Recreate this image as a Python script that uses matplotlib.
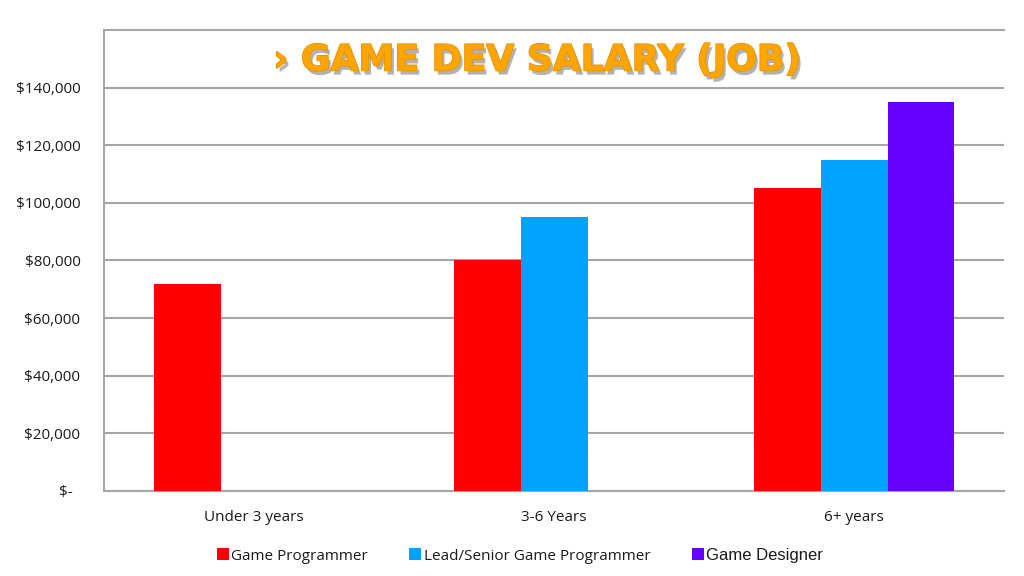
import numpy as np
import matplotlib
matplotlib.use("Agg")
from matplotlib import pyplot as plt
from matplotlib import patheffects as pe
from matplotlib.lines import Line2D
from matplotlib.ticker import FuncFormatter

# Data
categories = ["Under 3 years", "3-6 Years", "6+ years"]
series_names = ["Game Programmer", "Lead/Senior Game Programmer", "Game Designer"]
game_programmer = [72000, 80000, 105000]
lead_programmer = [0, 95000, 115000]
game_designer = [0, 0, 135000]
colors = ["#FF0000", "#00A2FF", "#6600FF"]

plt.rcParams['font.family'] = ['Open Sans', 'DejaVu Sans']

fig = plt.figure(figsize=(10.24, 5.76), dpi=100)
ax = fig.add_axes([0.1016, 0.1476, 0.879, 0.8003])

x = np.arange(len(categories))
width = 0.223
for i, (vals, c) in enumerate(zip([game_programmer, lead_programmer, game_designer], colors)):
    ax.bar(x + (i - 1) * width, vals, width, color=c, zorder=3, linewidth=0)

ax.set_xlim(-0.5, len(categories) - 0.5)
ax.set_ylim(0, 160000)
ax.set_yticks(np.arange(0, 140001, 20000))
ax.yaxis.set_major_formatter(FuncFormatter(
    lambda v, p: "$-  " if v == 0 else f"${v:,.0f}"))
ax.set_xticks(x)
ax.set_xticklabels(categories)
ax.tick_params(axis="both", length=0, labelsize=11, colors="#1a1a1a")
ax.tick_params(axis="y", pad=17)
ax.tick_params(axis="x", pad=14)

ax.grid(axis="y", color="#A6A6A6", linewidth=1.5, zorder=0)
ax.spines["right"].set_visible(False)
for side in ["left", "bottom", "top"]:
    ax.spines[side].set_color("#A6A6A6")
    ax.spines[side].set_linewidth(1.5)

# Title with shadow
fig.text(0.525, 0.895, "› GAME DEV SALARY (JOB)", ha="center", va="center",
         fontsize=26, fontweight="heavy", family=["DejaVu Sans"], color="#FFA500",
         path_effects=[pe.withSimplePatchShadow(offset=(2, -3), shadow_rgbFace="#555555", alpha=0.45),
                       pe.Stroke(linewidth=1.2, foreground="#E89400"), pe.Normal()])

handles = [Line2D([0], [0], marker="s", linestyle="none", markersize=8,
                  markerfacecolor=c, markeredgewidth=0) for c in colors]
leg = fig.legend(handles, series_names, loc="center", bbox_to_anchor=(0.507, 0.035),
                 ncol=3, frameon=False, fontsize=11, handletextpad=0.05,
                 columnspacing=2.6, handlelength=1.0)
for t in leg.get_texts():
    t.set_color("#1a1a1a")
leg.get_texts()[2].set_family(["Liberation Sans"])
leg.get_texts()[2].set_fontsize(12)

fig.savefig("out.png", dpi=100)
